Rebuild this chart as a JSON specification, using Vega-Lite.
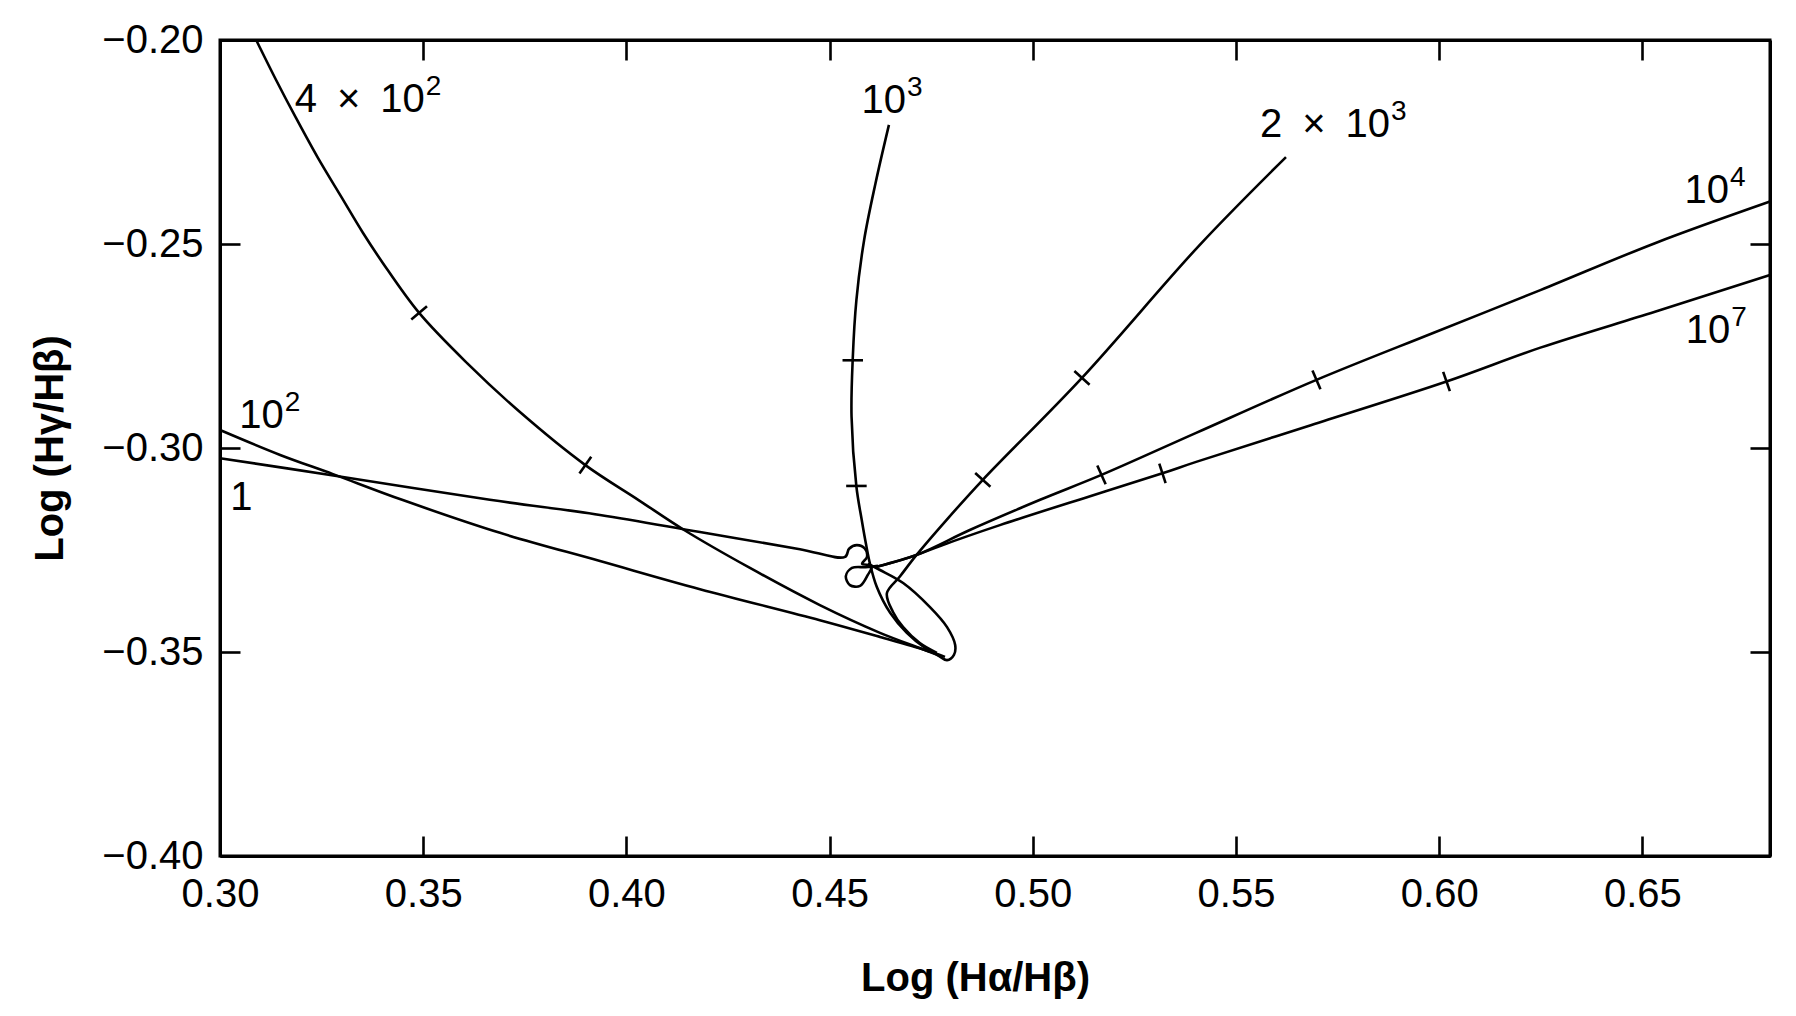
{
  "$schema": "https://vega.github.io/schema/vega-lite/v6.json",
  "width": 1550,
  "height": 816,
  "autosize": {"type": "none"},
  "padding": {"left": 220, "top": 40, "right": 26, "bottom": 160},
  "background": "white",
  "config": {
    "view": {"stroke": "black", "strokeWidth": 3},
    "axis": {
      "grid": false,
      "domainColor": "black",
      "domainWidth": 3,
      "tickColor": "black",
      "tickWidth": 2.6,
      "tickSize": -20,
      "labelFont": "Liberation Sans",
      "labelFontSize": 40,
      "labelColor": "black",
      "labelFlush": false,
      "labelOverlap": false,
      "titleFont": "Liberation Sans",
      "titleFontSize": 40,
      "titleFontWeight": "bold",
      "titleColor": "black"
    }
  },
  "datasets": {
    "labels": [
      {"base": "4\u2002×\u200210", "exp": "2", "x": 0.3504, "y": -0.2176},
      {"base": "10", "exp": "3", "x": 0.4688, "y": -0.2180},
      {"base": "2\u2002×\u200210", "exp": "3", "x": 0.5879, "y": -0.2237},
      {"base": "10", "exp": "4", "x": 0.6713, "y": -0.2400},
      {"base": "10", "exp": "7", "x": 0.6716, "y": -0.2743},
      {"base": "10", "exp": "2", "x": 0.3157, "y": -0.2952},
      {"base": "1", "exp": "", "x": 0.3080, "y": -0.3151}
    ]
  },
  "resolve": {"axis": {"x": "independent", "y": "independent"}},
  "layer": [
    {
      "data": {"values": [
        {"curve": "c1", "i": 0, "x": 0.3000, "y": -0.3025},
        {"curve": "c1", "i": 1, "x": 0.3271, "y": -0.3066},
        {"curve": "c1", "i": 2, "x": 0.3664, "y": -0.3127},
        {"curve": "c1", "i": 3, "x": 0.3935, "y": -0.3164},
        {"curve": "c1", "i": 4, "x": 0.4181, "y": -0.3206},
        {"curve": "c1", "i": 5, "x": 0.4427, "y": -0.3248},
        {"curve": "c1", "i": 6, "x": 0.4538, "y": -0.3267},
        {"curve": "c1", "i": 7, "x": 0.4548, "y": -0.3247},
        {"curve": "c1", "i": 8, "x": 0.4567, "y": -0.3238},
        {"curve": "c1", "i": 9, "x": 0.4587, "y": -0.3247},
        {"curve": "c1", "i": 10, "x": 0.4592, "y": -0.3267},
        {"curve": "c1", "i": 11, "x": 0.4580, "y": -0.3284},
        {"curve": "c1", "i": 12, "x": 0.4604, "y": -0.3289},
        {"curve": "c1", "i": 13, "x": 0.4594, "y": -0.3311},
        {"curve": "c1", "i": 14, "x": 0.4575, "y": -0.3338},
        {"curve": "c1", "i": 15, "x": 0.4550, "y": -0.3336},
        {"curve": "c1", "i": 16, "x": 0.4540, "y": -0.3314},
        {"curve": "c1", "i": 17, "x": 0.4555, "y": -0.3294},
        {"curve": "c1", "i": 18, "x": 0.4589, "y": -0.3292},
        {"curve": "c1", "i": 19, "x": 0.4619, "y": -0.3289},

        {"curve": "c1e2", "i": 0, "x": 0.3000, "y": -0.2956},
        {"curve": "c1e2", "i": 1, "x": 0.3148, "y": -0.3017},
        {"curve": "c1e2", "i": 2, "x": 0.3278, "y": -0.3064},
        {"curve": "c1e2", "i": 3, "x": 0.3448, "y": -0.3127},
        {"curve": "c1e2", "i": 4, "x": 0.3689, "y": -0.3208},
        {"curve": "c1e2", "i": 5, "x": 0.3935, "y": -0.3277},
        {"curve": "c1e2", "i": 6, "x": 0.4181, "y": -0.3346},
        {"curve": "c1e2", "i": 7, "x": 0.4476, "y": -0.3422},
        {"curve": "c1e2", "i": 8, "x": 0.4624, "y": -0.3463},
        {"curve": "c1e2", "i": 9, "x": 0.4735, "y": -0.3495},
        {"curve": "c1e2", "i": 10, "x": 0.4784, "y": -0.3512},

        {"curve": "c4e2", "i": 0, "x": 0.3089, "y": -0.2000},
        {"curve": "c4e2", "i": 1, "x": 0.3138, "y": -0.2098},
        {"curve": "c4e2", "i": 2, "x": 0.3187, "y": -0.2191},
        {"curve": "c4e2", "i": 3, "x": 0.3241, "y": -0.2289},
        {"curve": "c4e2", "i": 4, "x": 0.3300, "y": -0.2387},
        {"curve": "c4e2", "i": 5, "x": 0.3352, "y": -0.2473},
        {"curve": "c4e2", "i": 6, "x": 0.3401, "y": -0.2547},
        {"curve": "c4e2", "i": 7, "x": 0.3490, "y": -0.2669},
        {"curve": "c4e2", "i": 8, "x": 0.3608, "y": -0.2792},
        {"curve": "c4e2", "i": 9, "x": 0.3738, "y": -0.2912},
        {"curve": "c4e2", "i": 10, "x": 0.3899, "y": -0.3042},
        {"curve": "c4e2", "i": 11, "x": 0.4029, "y": -0.3127},
        {"curve": "c4e2", "i": 12, "x": 0.4142, "y": -0.3201},
        {"curve": "c4e2", "i": 13, "x": 0.4304, "y": -0.3294},
        {"curve": "c4e2", "i": 14, "x": 0.4476, "y": -0.3385},
        {"curve": "c4e2", "i": 15, "x": 0.4624, "y": -0.3453},
        {"curve": "c4e2", "i": 16, "x": 0.4764, "y": -0.3507},
        {"curve": "c4e2", "i": 17, "x": 0.4789, "y": -0.3520},
        {"curve": "c4e2", "i": 18, "x": 0.4806, "y": -0.3507},
        {"curve": "c4e2", "i": 19, "x": 0.4809, "y": -0.3483},
        {"curve": "c4e2", "i": 20, "x": 0.4789, "y": -0.3439},
        {"curve": "c4e2", "i": 21, "x": 0.4747, "y": -0.3390},
        {"curve": "c4e2", "i": 22, "x": 0.4681, "y": -0.3331},
        {"curve": "c4e2", "i": 23, "x": 0.4624, "y": -0.3299},
        {"curve": "c4e2", "i": 24, "x": 0.4594, "y": -0.3284},

        {"curve": "c1e3", "i": 0, "x": 0.4646, "y": -0.2208},
        {"curve": "c1e3", "i": 1, "x": 0.4613, "y": -0.2351},
        {"curve": "c1e3", "i": 2, "x": 0.4585, "y": -0.2490},
        {"curve": "c1e3", "i": 3, "x": 0.4566, "y": -0.2637},
        {"curve": "c1e3", "i": 4, "x": 0.4557, "y": -0.2780},
        {"curve": "c1e3", "i": 5, "x": 0.4554, "y": -0.2923},
        {"curve": "c1e3", "i": 6, "x": 0.4566, "y": -0.3095},
        {"curve": "c1e3", "i": 7, "x": 0.4579, "y": -0.3176},
        {"curve": "c1e3", "i": 8, "x": 0.4590, "y": -0.3238},
        {"curve": "c1e3", "i": 9, "x": 0.4599, "y": -0.3282},
        {"curve": "c1e3", "i": 10, "x": 0.4616, "y": -0.3340},
        {"curve": "c1e3", "i": 11, "x": 0.4649, "y": -0.3404},
        {"curve": "c1e3", "i": 12, "x": 0.4690, "y": -0.3453},
        {"curve": "c1e3", "i": 13, "x": 0.4735, "y": -0.3490},
        {"curve": "c1e3", "i": 14, "x": 0.4772, "y": -0.3510},

        {"curve": "c2e3", "i": 0, "x": 0.5623, "y": -0.2287},
        {"curve": "c2e3", "i": 1, "x": 0.5411, "y": -0.2502},
        {"curve": "c2e3", "i": 2, "x": 0.5121, "y": -0.2828},
        {"curve": "c2e3", "i": 3, "x": 0.4877, "y": -0.3078},
        {"curve": "c2e3", "i": 4, "x": 0.4788, "y": -0.3176},
        {"curve": "c2e3", "i": 5, "x": 0.4714, "y": -0.3262},
        {"curve": "c2e3", "i": 6, "x": 0.4673, "y": -0.3315},
        {"curve": "c2e3", "i": 7, "x": 0.4641, "y": -0.3356},
        {"curve": "c2e3", "i": 8, "x": 0.4656, "y": -0.3402},
        {"curve": "c2e3", "i": 9, "x": 0.4681, "y": -0.3439},
        {"curve": "c2e3", "i": 10, "x": 0.4722, "y": -0.3478},
        {"curve": "c2e3", "i": 11, "x": 0.4764, "y": -0.3502},

        {"curve": "c1e4", "i": 0, "x": 0.6814, "y": -0.2396},
        {"curve": "c1e4", "i": 1, "x": 0.6531, "y": -0.2498},
        {"curve": "c1e4", "i": 2, "x": 0.6249, "y": -0.2613},
        {"curve": "c1e4", "i": 3, "x": 0.5985, "y": -0.2718},
        {"curve": "c1e4", "i": 4, "x": 0.5698, "y": -0.2833},
        {"curve": "c1e4", "i": 5, "x": 0.5402, "y": -0.2963},
        {"curve": "c1e4", "i": 6, "x": 0.5169, "y": -0.3066},
        {"curve": "c1e4", "i": 7, "x": 0.5018, "y": -0.3127},
        {"curve": "c1e4", "i": 8, "x": 0.4845, "y": -0.3201},
        {"curve": "c1e4", "i": 9, "x": 0.4714, "y": -0.3262},
        {"curve": "c1e4", "i": 10, "x": 0.4616, "y": -0.3291},

        {"curve": "c1e7", "i": 0, "x": 0.6814, "y": -0.2576},
        {"curve": "c1e7", "i": 1, "x": 0.6531, "y": -0.2666},
        {"curve": "c1e7", "i": 2, "x": 0.6249, "y": -0.2754},
        {"curve": "c1e7", "i": 3, "x": 0.6018, "y": -0.2837},
        {"curve": "c1e7", "i": 4, "x": 0.5684, "y": -0.2944},
        {"curve": "c1e7", "i": 5, "x": 0.5402, "y": -0.3034},
        {"curve": "c1e7", "i": 6, "x": 0.5319, "y": -0.3062},
        {"curve": "c1e7", "i": 7, "x": 0.5141, "y": -0.3118},
        {"curve": "c1e7", "i": 8, "x": 0.4919, "y": -0.3189},
        {"curve": "c1e7", "i": 9, "x": 0.4772, "y": -0.3240},
        {"curve": "c1e7", "i": 10, "x": 0.4714, "y": -0.3262},
        {"curve": "c1e7", "i": 11, "x": 0.4616, "y": -0.3291}
      ]},
      "mark": {"type": "line", "color": "black", "strokeWidth": 2.6, "interpolate": "catmull-rom"},
      "encoding": {
        "x": {"field": "x", "type": "quantitative", "scale": {"domain": [0.30, 0.6814], "nice": false, "zero": false},
              "axis": {"orient": "bottom", "values": [0.30, 0.35, 0.40, 0.45, 0.50, 0.55, 0.60, 0.65], "format": ".2f", "labelPadding": 38, "title": "Log (Hα/Hβ)", "titlePadding": 44, "titleX": 755}},
        "y": {"field": "y", "type": "quantitative", "scale": {"domain": [-0.40, -0.20], "nice": false, "zero": false},
              "axis": {"orient": "left", "values": [-0.40, -0.35, -0.30, -0.25, -0.20], "format": ".2f", "labelPadding": 37, "title": "Log (Hγ/Hβ)", "titlePadding": 31}},
        "detail": {"field": "curve"},
        "order": {"field": "i"}
      }
    },
    {
      "data": {"values": [
        {"id": "t1", "x": 0.3490, "y": -0.2669},
        {"id": "t2", "x": 0.3899, "y": -0.3042},
        {"id": "t3", "x": 0.4557, "y": -0.2785},
        {"id": "t4", "x": 0.4566, "y": -0.3093},
        {"id": "t5", "x": 0.5121, "y": -0.2828},
        {"id": "t6", "x": 0.4877, "y": -0.3078},
        {"id": "t7", "x": 0.5698, "y": -0.2833},
        {"id": "t8", "x": 0.5169, "y": -0.3066},
        {"id": "t9", "x": 0.6018, "y": -0.2837},
        {"id": "t10", "x": 0.5319, "y": -0.3062}
      ]},
      "mark": {"type": "point", "shape": "stroke", "size": 420, "color": "black", "strokeWidth": 2.6, "filled": false, "opacity": 1},
      "encoding": {
        "x": {"field": "x", "type": "quantitative",
              "axis": {"orient": "top", "values": [0.30, 0.35, 0.40, 0.45, 0.50, 0.55, 0.60, 0.65], "labels": false, "title": null}},
        "y": {"field": "y", "type": "quantitative",
              "axis": {"orient": "right", "values": [-0.40, -0.35, -0.30, -0.25, -0.20], "labels": false, "title": null}},
        "angle": {"field": "id", "type": "nominal", "legend": null,
                  "scale": {"type": "ordinal", "domain": ["t1", "t2", "t3", "t4", "t5", "t6", "t7", "t8", "t9", "t10"], "range": [-40, -55, 0, 0, 42, 42, 67, 66, 71, 72]}}
      }
    },
    {
      "data": {"name": "labels"},
      "mark": {"type": "text", "align": "right", "baseline": "alphabetic", "font": "Liberation Sans, DejaVu Sans", "fontSize": 40, "color": "black"},
      "encoding": {
        "x": {"field": "x", "type": "quantitative", "axis": null},
        "y": {"field": "y", "type": "quantitative", "axis": null},
        "text": {"field": "base"}
      }
    },
    {
      "data": {"name": "labels"},
      "mark": {"type": "text", "align": "left", "baseline": "alphabetic", "font": "Liberation Sans, DejaVu Sans", "fontSize": 28, "color": "black", "dx": 1, "dy": -17},
      "encoding": {
        "x": {"field": "x", "type": "quantitative", "axis": null},
        "y": {"field": "y", "type": "quantitative", "axis": null},
        "text": {"field": "exp"}
      }
    }
  ]
}
